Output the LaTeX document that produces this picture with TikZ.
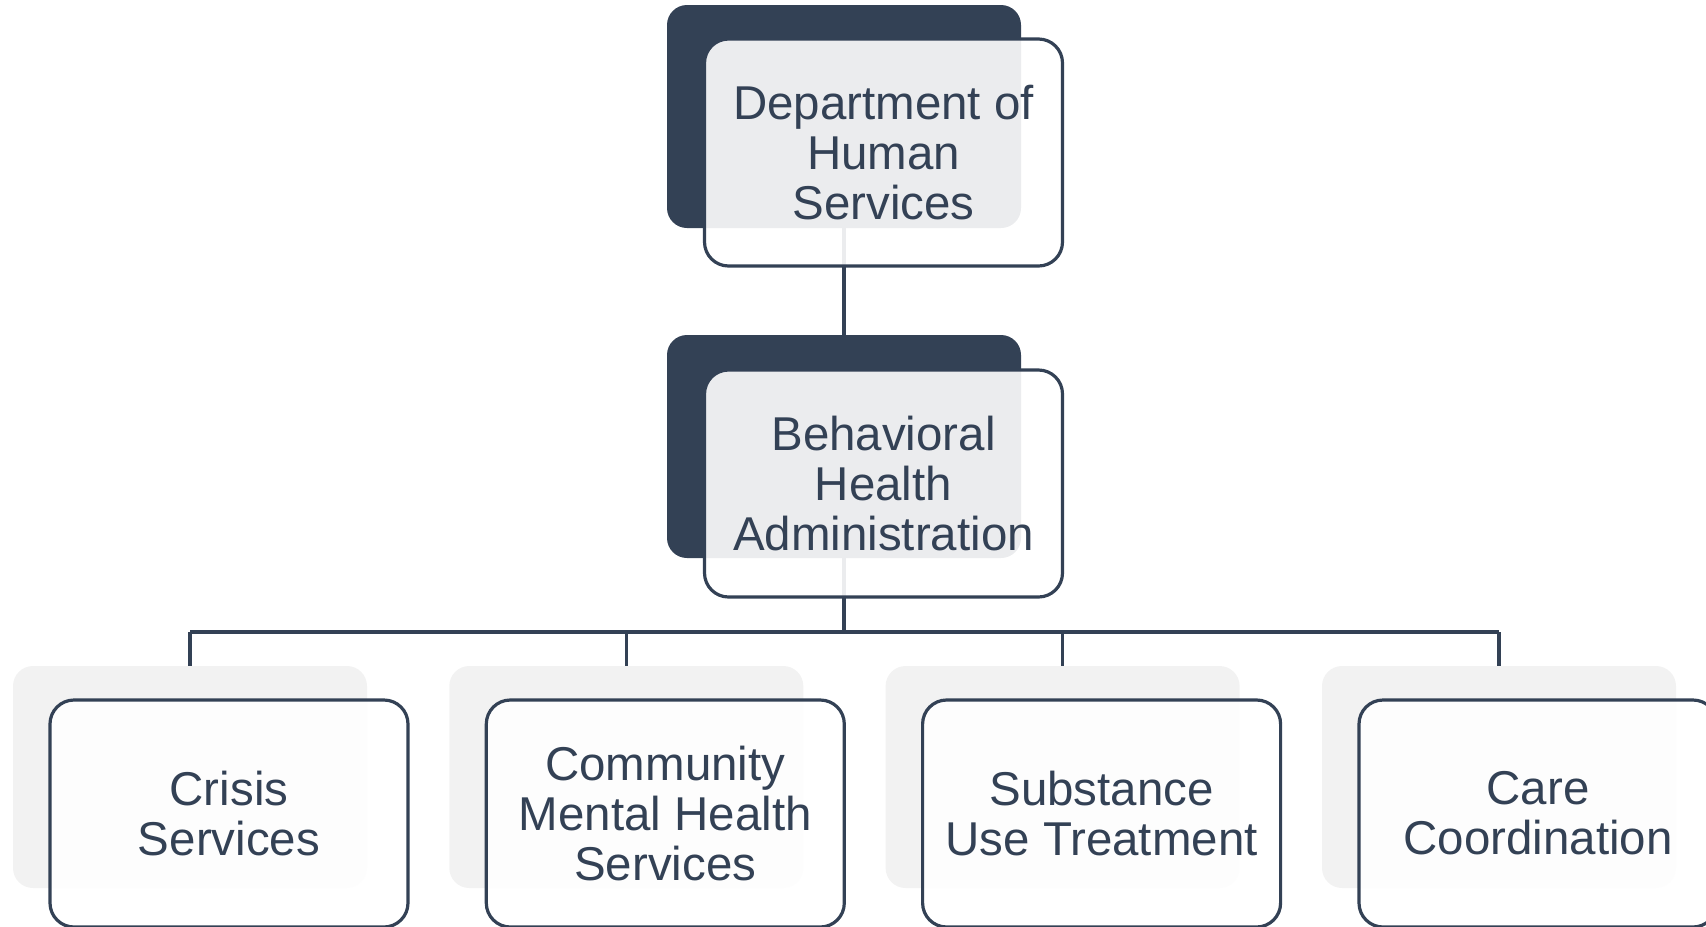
\documentclass[tikz,border=0pt]{standalone}
\usepackage{fontspec}
\setmainfont{Liberation Sans}
\definecolor{slate}{HTML}{334155}
\definecolor{paleback}{HTML}{F2F2F2}
\begin{document}
\begin{tikzpicture}[x=0.75pt,y=-0.75pt,
  darkrect/.style={draw=none,fill=slate,rounded corners=15pt,inner sep=0pt,
    minimum width={354*0.75pt},minimum height={223*0.75pt}},
  palerect/.style={draw=none,fill=paleback,rounded corners=15pt,inner sep=0pt,
    minimum width={354*0.75pt},minimum height={222*0.75pt}},
  mainbox/.style={draw=slate,line width=2.4pt,fill=white,fill opacity=0.9,text opacity=1,
    rounded corners=18pt,inner sep=0pt,minimum width={358*0.75pt},minimum height={227*0.75pt},
    text=slate,align=center,font=\fontsize{35.6pt}{37.5pt}\selectfont},
  link/.style={draw=slate,line width=2.6pt}]
\useasboundingbox (0,0) rectangle (1706,926);
% connectors (behind everything)
\coordinate (bus) at (844,632);
\coordinate (busL) at (190,632);
\coordinate (busR) at (1499,632);
\draw[link] (844,116.5) -- (844,446.5);
\draw[link] (844,446.5) -- (bus);
\draw[link] (busL) -- (busR);
\foreach \i/\x in {1/190,2/626.3,3/1062.6,4/1499}{
  \draw[link] (\x,632) -- (\x,666);
}
% backing rectangles
\node[darkrect] (dhsback) at (844,116.5) {};
\node[darkrect] (bhaback) at (844,446.5) {};
\node[palerect] (c1back) at (190,777) {};
\node[palerect] (c2back) at (626.3,777) {};
\node[palerect] (c3back) at (1062.6,777) {};
\node[palerect] (c4back) at (1499,777) {};
% front boxes
\node[mainbox] (dhs) at (883.5,152.5) {Department of\\Human\\Services};
\node[mainbox] (bha) at (883.5,483.5) {Behavioral\\Health\\Administration};
\node[mainbox] (c1) at (229,813.5) {Crisis\\Services};
\node[mainbox] (c2) at (665.3,813.5) {Community\\Mental Health\\Services};
\node[mainbox] (c3) at (1101.6,813.5) {Substance\\Use Treatment};
\node[mainbox] (c4) at (1538,813.5) {Care\\Coordination};
\end{tikzpicture}
\end{document}
